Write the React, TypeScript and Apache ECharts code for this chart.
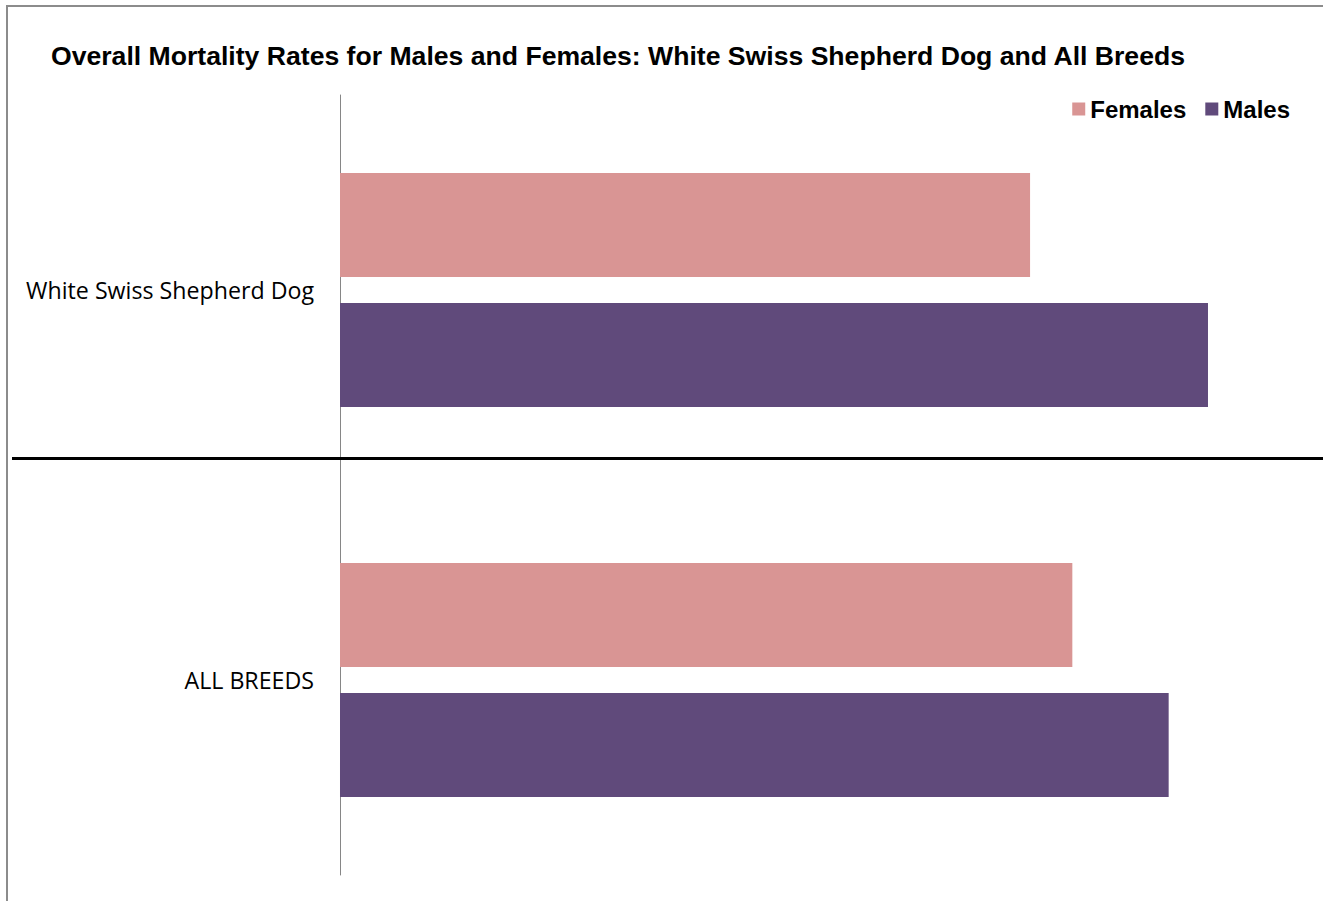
import React, { useEffect, useRef } from "react";
import * as echarts from "echarts";

const categories = ["White Swiss Shepherd Dog", "ALL BREEDS"];
const seriesNames = ["Females", "Males"];
const femalesValues = [7.02, 7.45];
const malesValues = [8.83, 8.43];
const xMax = 10;

export default function App() {
  const ref = useRef<HTMLDivElement>(null);
  useEffect(() => {
    if (!ref.current) return;
    const chart = echarts.init(ref.current, undefined, { renderer: "svg" });
    chart.setOption({
      animation: false,
      backgroundColor: "#ffffff",
      title: {
        text: "Overall Mortality Rates for Males and Females: White Swiss Shepherd Dog and All Breeds",
        left: 46,
        top: 37,
        textStyle: {
          fontFamily: "Liberation Sans, Arial, sans-serif",
          fontWeight: "bold",
          fontSize: 26.6,
          color: "#000000",
        },
      },
      legend: {
        data: seriesNames,
        right: 28,
        top: 92,
        itemWidth: 13,
        itemHeight: 13,
        itemGap: 19,
        icon: "rect",
        textStyle: {
          fontFamily: "Liberation Sans, Arial, sans-serif",
          fontWeight: "bold",
          fontSize: 24,
          color: "#000000",
        },
      },
      grid: { left: 340, right: 0, top: 95, bottom: 26, containLabel: false },
      xAxis: {
        type: "value",
        min: 0,
        max: xMax,
        show: false,
      },
      yAxis: {
        type: "category",
        data: categories,
        inverse: true,
        axisLine: { show: true, lineStyle: { color: "#868686", width: 1 } },
        axisTick: { show: false },
        splitLine: { show: false },
        axisLabel: {
          margin: 26,
          fontFamily: "Open Sans, sans-serif",
          fontSize: 23.2,
          color: "#000000",
        },
      },
      series: [
        {
          name: "Females",
          type: "bar",
          data: femalesValues,
          itemStyle: { color: "#D99594" },
          barGap: "25%",
          barCategoryGap: "40%",
        },
        {
          name: "Males",
          type: "bar",
          data: malesValues,
          itemStyle: { color: "#604A7B" },
          barGap: "25%",
          barCategoryGap: "40%",
        },
      ],
      graphic: [
        {
          type: "rect",
          shape: { x: 7, y: 6, width: 1400, height: 1000 },
          style: { fill: "none", stroke: "#8c8c8c", lineWidth: 2 },
          silent: true,
        },
        {
          type: "line",
          shape: { x1: 12, y1: 458.5, x2: 1330, y2: 458.5 },
          style: { stroke: "#000000", lineWidth: 3 },
          silent: true,
          z: 10,
        },
      ],
    });
    return () => chart.dispose();
  }, []);
  return (
    <div
      ref={ref}
      style={{ position: "fixed", left: 0, top: 0, width: 1323, height: 901 }}
    />
  );
}
